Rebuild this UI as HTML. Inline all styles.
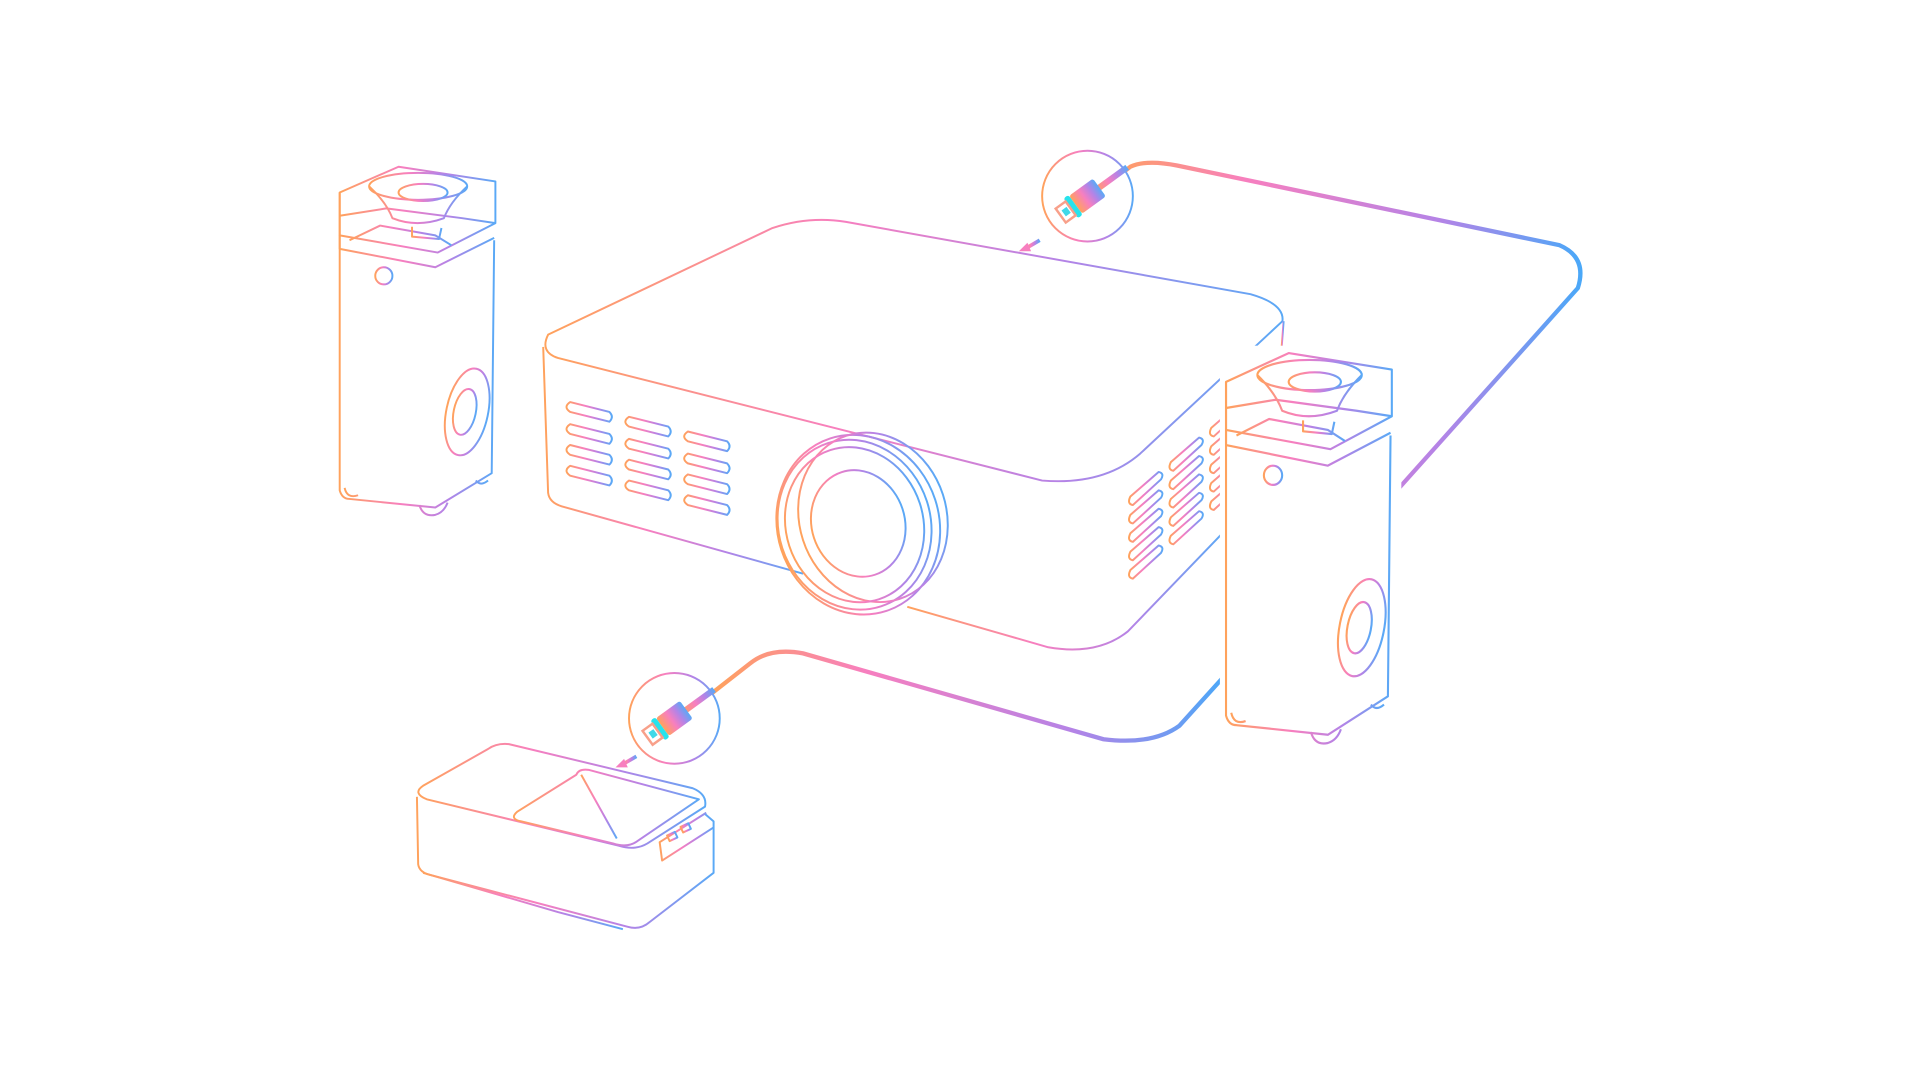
<!DOCTYPE html>
<html><head><meta charset="utf-8"><style>
html,body{margin:0;padding:0;background:#fff;width:1920px;height:1080px;overflow:hidden}
svg{display:block}
</style></head><body>
<svg width="1920" height="1080" viewBox="0 0 1566 881" xmlns="http://www.w3.org/2000/svg">
<defs>
<linearGradient id="g" x1="0" y1="0" x2="1" y2="0">
<stop offset="0" stop-color="#ffa25c"/><stop offset="0.4" stop-color="#f77fbf"/><stop offset="0.7" stop-color="#b583e6"/><stop offset="1" stop-color="#5aa9f6"/></linearGradient>
<linearGradient id="gu" gradientUnits="userSpaceOnUse" x1="900" y1="0" x2="1290" y2="0">
<stop offset="0" stop-color="#ffa25c"/><stop offset="0.3" stop-color="#f77fbf"/><stop offset="0.7" stop-color="#b583e6"/><stop offset="1" stop-color="#4aa8f8"/></linearGradient>
<linearGradient id="gc" gradientUnits="userSpaceOnUse" x1="580" y1="0" x2="1000" y2="0">
<stop offset="0" stop-color="#ffa25c"/><stop offset="0.3" stop-color="#f77fbf"/><stop offset="0.7" stop-color="#b583e6"/><stop offset="1" stop-color="#4aa8f8"/></linearGradient>
<g id="spk" fill="none" stroke="url(#g)" stroke-width="1.6" stroke-linejoin="round">
<path d="M277 157 L325 136 L404 148 L404 182 L357 206 L277 192 Z"/>
<path d="M277 157 L277 400 Q279 407 285 407 L355 414 L401 386 L403 196"/>
<path d="M277 192 L277 203 L355 218 L403 194"/>
<path d="M355 218 L355 412"/>
<path d="M277 176 L315 170 L377 178 L404 182"/>
<path d="M285 196 L310 184 L355 192 L368 200"/>
<ellipse cx="341" cy="152" rx="40" ry="11"/>
<path d="M301 152 Q315 165 320 178 Q340 186 362 178 Q367 165 381 152"/>
<ellipse cx="345" cy="157" rx="20" ry="7"/>
<path d="M336 185 L336 193 L358 195 L360 186"/>
<circle cx="313" cy="225" r="7"/>
<ellipse cx="381" cy="336" rx="17" ry="36" transform="rotate(12 381 336)"/>
<ellipse cx="379" cy="336" rx="9" ry="19" transform="rotate(12 379 336)"/>
<path d="M281 398 Q283 407 292 404 M342 412 Q345 422 355 420 Q362 418 365 410 M388 392 Q392 397 398 392"/>
</g>
<g id="conn">
<circle cx="0" cy="0" r="37" fill="#fff" stroke="url(#g)" stroke-width="1.6"/>
<g transform="rotate(-36)">
<rect x="8" y="-2.5" width="32" height="5" fill="url(#g)"/>
<rect x="-12" y="-9" width="24" height="18" rx="2" fill="url(#g)"/>
<rect x="-17" y="-10" width="5" height="20" rx="2" fill="#27e3ec"/>
<rect x="-27" y="-7" width="10" height="14" fill="#fff" stroke="#f8a08a" stroke-width="2"/>
<rect x="-24" y="-3" width="5" height="6" fill="#40d8e8"/>
</g>
</g>
</defs>

<!-- cables -->
<path d="M904 150 L922 136 Q935 130 960 135 L1272 200 Q1295 210 1287 235 L1135 405" fill="none" stroke="url(#gu)" stroke-width="3.5" stroke-linecap="round"/>
<path d="M580 566 L612 541 Q628 528 655 533 L900 603 Q940 608 962 592 L1000 550" fill="none" stroke="url(#gc)" stroke-width="3.5" stroke-linecap="round"/>

<!-- projector -->
<g fill="none" stroke="url(#g)" stroke-width="1.6" stroke-linejoin="round">
<path d="M447 273 L630 186 Q660 176 690 181 L1020 240 Q1048 248 1046 262 L930 370 Q900 396 850 392 L455 292 Q440 287 447 273 Z"/>
<path d="M443 283 L447 402 Q448 410 458 413 L655 468"/>
<path d="M740 495 L855 528 Q895 535 920 515 L1000 432"/>
<path d="M1047 262 L1045 288"/>
<ellipse cx="700" cy="428" rx="66" ry="74" transform="rotate(-18 700 428)"/>
<ellipse cx="697" cy="428" rx="62" ry="70" transform="rotate(-18 697 428)"/>
<ellipse cx="712" cy="422" rx="60" ry="70" transform="rotate(-18 712 422)"/>
<ellipse cx="697" cy="428" rx="56" ry="64" transform="rotate(-18 697 428)"/>
<ellipse cx="700" cy="427" rx="38" ry="44" transform="rotate(-18 700 427)"/>
<g id="vc">
<path d="M465 328 L497 336 Q501 340 497 344 L465 336 Q459 332 465 328 Z"/>
<path d="M465 346 L497 354 Q501 358 497 362 L465 354 Q459 350 465 346 Z"/>
<path d="M465 363 L497 371 Q501 375 497 379 L465 371 Q459 367 465 363 Z"/>
<path d="M465 380 L497 388 Q501 392 497 396 L465 388 Q459 384 465 380 Z"/>
</g>
<use href="#vc" transform="translate(48 12)"/>
<use href="#vc" transform="translate(96 24)"/>
<g id="sv">
<path d="M922 405 L945 385 Q950 386 947 391 L924 412 Q919 411 922 405 Z"/>
<path d="M922 420 L945 400 Q950 401 947 406 L924 427 Q919 426 922 420 Z"/>
<path d="M922 435 L945 415 Q950 416 947 421 L924 442 Q919 441 922 435 Z"/>
<path d="M922 450 L945 430 Q950 431 947 436 L924 457 Q919 456 922 450 Z"/>
<path d="M922 465 L945 445 Q950 446 947 451 L924 472 Q919 471 922 465 Z"/>
</g>
<use href="#sv" transform="translate(33 -28)"/>
<use href="#sv" transform="translate(66 -56)"/>
</g>

<!-- speakers -->
<use href="#spk"/>
<rect x="995" y="282" width="148" height="322" fill="#fff"/>
<use href="#spk" transform="translate(705 135.7) scale(1.065 1.12)"/>

<!-- small device -->
<g fill="none" stroke="url(#g)" stroke-width="1.6" stroke-linejoin="round">
<path d="M345 641 L398 611 Q405 606 415 607 L565 643 Q577 648 575 658 L528 688 Q518 694 505 690 L348 652 Q336 647 345 641 Z"/>
<path d="M340 650 L341 705 Q342 712 352 714 L512 756 Q522 759 530 752 L582 712 L582 670 L575 664"/>
<path d="M345 712 L455 744 L508 758"/>
<path d="M514 693 L514 756"/>
<path d="M576 663 L538 687 L540 702 L582 675"/>
<path d="M422 662 Q415 668 425 670 L500 688 Q512 692 520 686 L570 652 L480 628 Q472 627 470 632 Z"/>
<path d="M474 632 L503 684"/>
<rect x="545" y="680" width="7" height="5" transform="rotate(-25 548 683)"/>
<rect x="556" y="673" width="7" height="5" transform="rotate(-25 559 676)"/>
</g>

<!-- connector circles -->
<use href="#conn" transform="translate(887 160)"/>
<use href="#conn" transform="translate(550 586)"/>
<path d="M848 196 L836 203" stroke="url(#g)" stroke-width="3" fill="none"/>
<path d="M831 205 L838 198 L841 205 Z" fill="#f77fbf"/>
<path d="M519 617 L507 624" stroke="url(#g)" stroke-width="3" fill="none"/>
<path d="M502 626 L509 619 L512 626 Z" fill="#f77fbf"/>
</svg>
</body></html>
